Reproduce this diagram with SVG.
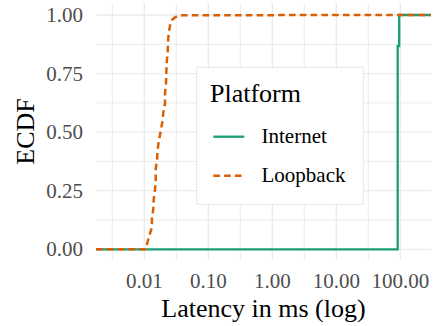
<svg xmlns="http://www.w3.org/2000/svg" width="435" height="326" viewBox="0 0 435 326">
<style>
text{font-family:"Liberation Serif","Times New Roman",serif}
.tick{font-size:21px;fill:#4d4d4d}
.title{font-size:26px;fill:#000}
.leg{font-size:21px;fill:#000}
.maj{stroke:#ebebeb;stroke-width:1.3;fill:none}
.min{stroke:#ebebeb;stroke-width:1;fill:none}
.inet{stroke:#1b9e77;stroke-width:2.3;fill:none}
.loop{stroke:#d95f02;stroke-width:2.5;fill:none;stroke-dasharray:6.6 4.2}
</style>
<rect width="435" height="326" fill="#fff"/>
<g id="grid">
<path class="min" d="M96 44.3H431M96 102.9H431M96 161.4H431M96 220H431M112.3 3V260M176.3 3V260M240.3 3V260M304.3 3V260M368.3 3V260"/>
<path class="maj" d="M96 15H431M96 73.6H431M96 132.1H431M96 190.7H431M96 249.3H431M144.3 3V260M208.3 3V260M272.3 3V260M336.3 3V260M400.3 3V260"/>
</g>
<g id="y-axis">
<text class="tick" x="83" y="22" text-anchor="end">1.00</text>
<text class="tick" x="83" y="80.6" text-anchor="end">0.75</text>
<text class="tick" x="83" y="139.1" text-anchor="end">0.50</text>
<text class="tick" x="83" y="197.7" text-anchor="end">0.25</text>
<text class="tick" x="83" y="256.3" text-anchor="end">0.00</text>
<text class="title" transform="translate(34.3,131.5) rotate(-90)" text-anchor="middle">ECDF</text>
</g>
<g id="x-axis">
<text class="tick" x="144.3" y="288" text-anchor="middle">0.01</text>
<text class="tick" x="208.3" y="288" text-anchor="middle">0.10</text>
<text class="tick" x="272.3" y="288" text-anchor="middle">1.00</text>
<text class="tick" x="336.3" y="288" text-anchor="middle">10.00</text>
<text class="tick" x="400.3" y="288" text-anchor="middle">100.00</text>
<text class="title" x="263.5" y="316.5" text-anchor="middle">Latency in ms (log)</text>
</g>
<g id="connectors">
<polyline id="internet" class="inet" points="96,249.3 397.7,249.3 397.7,46 399.2,46 399.2,15 431,15"/>
<polyline id="loopback" class="loop" points="96,249.3 145.5,249.3 146.7,245 149,236.7 151.7,228 152,218 153.3,209 153.7,199.3 155,190 155.7,179 155.7,169 157,160 157.7,149 159,140 160.7,131 162.3,122 163.3,113 165,103.3 165,93.3 166,83.3 166.3,73.3 166.7,62.7 167.7,51.7 168,41.7 168.7,33.3 170.3,24 172,20 174.7,17.5 178,16 183,15.2 431,15"/>
</g>
<g id="legend">
<rect x="196.7" y="67.3" width="166.6" height="137" fill="#fff" stroke="#e6e6e6" stroke-width="1"/>
<text class="title" x="210" y="101.7">Platform</text>
<line class="inet" x1="213.3" y1="136.7" x2="244.3" y2="136.7"/>
<text class="leg" x="261.5" y="143.3">Internet</text>
<line class="loop" x1="213.3" y1="175.7" x2="244.3" y2="175.7"/>
<text class="leg" x="261.5" y="181.7">Loopback</text>
</g>
</svg>
